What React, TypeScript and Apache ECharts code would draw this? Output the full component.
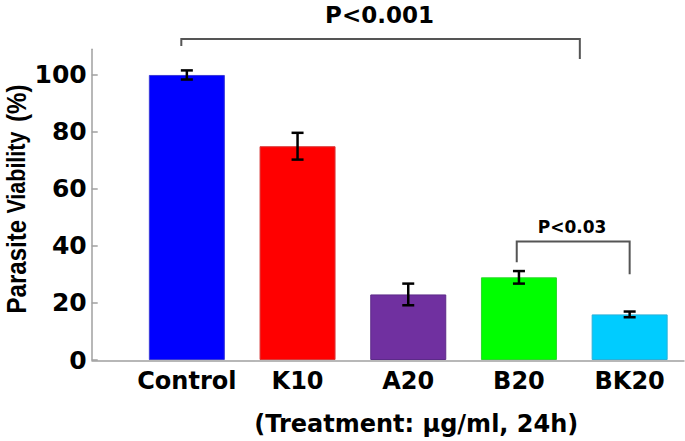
import React, { useEffect, useRef } from "react";
import * as echarts from "echarts";

// ---- data ----
const categories = ["Control", "K10", "A20", "B20", "BK20"];
const viability = [100, 75, 23, 29, 16];
const viabilityErr = [1.6, 4.7, 3.8, 2.2, 1.0];
const barColors = ["#0000FF", "#FF0000", "#7030A0", "#00FF00", "#00CCFF"];
const barBorders = ["#3a3ad8", "#d83a3a", "#5c2a88", "#2ad82a", "#2ab0d8"];

const yMin = 0;
const yMax = 109;
const yInterval = 20;

// significance brackets (x in category index units, y in % units)
const bracketLabels = ["P<0.001", "P<0.03"];
const bracketX1 = [-0.05, 2.98];
const bracketX2 = [3.55, 4.0];
const bracketTop = [112.6, 41.6];
const bracketLeftEnd = [110.2, 34.3];
const bracketRightEnd = [105.6, 30.1];
const bracketLabelX = [1.74, 3.48];
const bracketLabelY = [120.9, 46.7];
const bracketLabelSize = [23, 17];

const xAxisTitle = "(Treatment: µg/ml, 24h)";

const BOLD_FONT = "DejaVu Sans";

export default function App() {
  const ref = useRef<HTMLDivElement>(null);

  useEffect(() => {
    if (!ref.current) return;
    const chart = echarts.init(ref.current, undefined, { renderer: "svg" });

    const gridTop = 49.3;
    const gridBottom = 80;

    const xAt = (api: any, f: number, v: number) => {
      const a = api.coord([0, v]);
      const b = api.coord([1, v]);
      return [a[0] + f * (b[0] - a[0]), a[1]];
    };

    const option: any = {
      animation: false,
      backgroundColor: "#ffffff",
      grid: [
        { left: 131.5, width: 554.5, top: gridTop, bottom: gridBottom, containLabel: false },
        { left: 92, right: 1, top: gridTop, bottom: gridBottom, containLabel: false },
      ],
      xAxis: [
        {
          type: "category",
          gridIndex: 0,
          data: categories,
          boundaryGap: true,
          axisLine: { show: false },
          axisTick: { show: false },
          axisLabel: {
            show: true,
            interval: 0,
            margin: 9,
            color: "#000",
            fontSize: 24,
            fontWeight: "bold",
            fontFamily: BOLD_FONT,
          },
          name: xAxisTitle,
          nameLocation: "middle",
          nameGap: 52,
          nameTextStyle: {
            color: "#000",
            fontSize: 24,
            fontWeight: "bold",
            fontFamily: BOLD_FONT,
            padding: [0, 0, 0, 16],
          },
          splitLine: { show: false },
        },
        {
          type: "value",
          gridIndex: 1,
          min: 0,
          max: 1,
          axisLine: { show: true, lineStyle: { color: "#a0a0a0", width: 1.5 } },
          axisTick: { show: false },
          axisLabel: { show: false },
          splitLine: { show: false },
        },
      ],
      yAxis: [
        {
          type: "value",
          gridIndex: 0,
          min: yMin,
          max: yMax,
          interval: yInterval,
          offset: 39.8,
          axisLine: { show: true, lineStyle: { color: "#a0a0a0", width: 1.5 } },
          axisTick: { show: true, inside: true, length: 6, lineStyle: { color: "#a0a0a0", width: 1.5 } },
          axisLabel: {
            show: true,
            margin: 5,
            color: "#000",
            fontSize: 25,
            fontWeight: "bold",
            fontFamily: BOLD_FONT,
            showMaxLabel: false,
          },
          splitLine: { show: false },
        },
        {
          type: "value",
          gridIndex: 1,
          show: false,
          min: 0,
          max: 1,
        },
      ],
      series: [
        {
          type: "bar",
          xAxisIndex: 0,
          yAxisIndex: 0,
          barWidth: 76,
          data: viability.map((v, i) => ({
            value: v,
            itemStyle: { color: barColors[i], borderColor: barBorders[i], borderWidth: 1 },
          })),
        },
        {
          type: "custom",
          xAxisIndex: 0,
          yAxisIndex: 0,
          clip: false,
          z: 5,
          data: viability.map((v, i) => [i, v, viabilityErr[i]]),
          encode: { x: 0, y: 1 },
          renderItem: (params: any, api: any) => {
            const i = api.value(0);
            const m = api.value(1);
            const e = api.value(2);
            const top = api.coord([i, m + e]);
            const bot = api.coord([i, m - e]);
            const hw = 6;
            const style = { stroke: "#000", lineWidth: 2.5 };
            return {
              type: "group",
              children: [
                { type: "line", shape: { x1: top[0], y1: top[1], x2: bot[0], y2: bot[1] }, style },
                { type: "line", shape: { x1: top[0] - hw, y1: top[1], x2: top[0] + hw, y2: top[1] }, style },
                { type: "line", shape: { x1: bot[0] - hw, y1: bot[1], x2: bot[0] + hw, y2: bot[1] }, style },
              ],
            };
          },
        },
        {
          type: "custom",
          xAxisIndex: 0,
          yAxisIndex: 0,
          clip: false,
          z: 6,
          data: bracketLabels.map((_, k) => [k, bracketTop[k]]),
          encode: { x: 0, y: 1 },
          renderItem: (params: any, api: any) => {
            const k = params.dataIndex;
            const lt = xAt(api, bracketX1[k], bracketTop[k]);
            const lb = xAt(api, bracketX1[k], bracketLeftEnd[k]);
            const rt = xAt(api, bracketX2[k], bracketTop[k]);
            const rb = xAt(api, bracketX2[k], bracketRightEnd[k]);
            const tp = xAt(api, bracketLabelX[k], bracketLabelY[k]);
            return {
              type: "group",
              children: [
                {
                  type: "polyline",
                  shape: { points: [lb, lt, rt, rb] },
                  style: { stroke: "#555", lineWidth: 2, fill: "none" },
                },
                {
                  type: "text",
                  x: tp[0],
                  y: tp[1],
                  style: {
                    text: bracketLabels[k],
                    fill: "#000",
                    fontSize: bracketLabelSize[k],
                    fontWeight: "bold",
                    fontFamily: BOLD_FONT,
                    align: "center",
                    verticalAlign: "middle",
                    textAlign: "center",
                    textVerticalAlign: "middle",
                  },
                },
              ],
            };
          },
        },
      ],
      graphic: [
        {
          type: "text",
          x: 16,
          y: 199,
          rotation: Math.PI / 2,
          scaleX: 0.86,
          style: {
            text: "{a|Parasite} {b|Viability} {c|(%)}",
            fill: "#000",
            align: "center",
            verticalAlign: "middle",
            fontSize: 26,
            fontFamily: "Liberation Sans",
            rich: {
              a: { fontSize: 28, fontWeight: "bold", fontFamily: "Liberation Sans", fill: "#000" },
              b: { fontSize: 25, fontWeight: "bold", fontFamily: "Liberation Sans", fill: "#000" },
              c: { fontSize: 28, fontWeight: "bold", fontFamily: "Liberation Sans", fill: "#000", padding: [0, 0, 0, 4] },
            },
          },
        },
      ],
    };

    chart.setOption(option);
    return () => chart.dispose();
  }, []);

  return (
    <div
      ref={ref}
      style={{ position: "fixed", left: 0, top: 0, width: 685, height: 441, background: "#fff" }}
    />
  );
}
